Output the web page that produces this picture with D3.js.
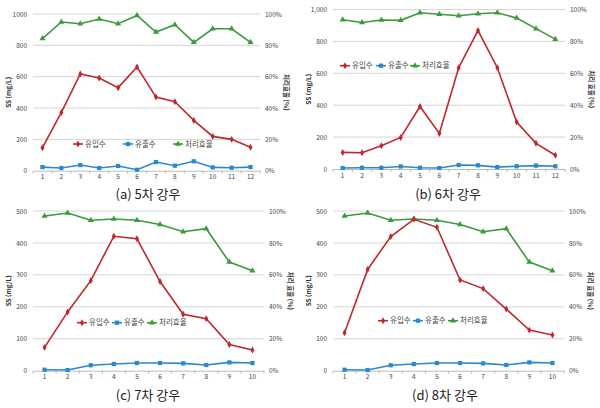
<!DOCTYPE html>
<html><head><meta charset="utf-8">
<script src="https://cdn.jsdelivr.net/npm/d3@7"></script>
<style>
html,body{margin:0;padding:0;background:#fff;}
svg{display:block;}
text{font-family:"Noto Sans CJK KR","Noto Sans",sans-serif;}
</style></head>
<body>
<svg id="c" width="600" height="408"></svg>
<script>
// ---- data ----
const categories12 = [1,2,3,4,5,6,7,8,9,10,11,12];
const categories10 = [1,2,3,4,5,6,7,8,9,10];
const seriesNames = ["유입수","유출수","처리효율"];

const rain5_inflow  = [147,372,617,591,530,662,470,440,321,219,200,149];
const rain5_outflow = [23,17,36,17,30,6,55,32,60,21,19,23];
const rain5_eff     = [84.3,94.9,93.8,96.8,93.8,99.1,88.5,93.2,81.9,90.6,90.6,81.9];

const rain6_inflow  = [104,102,146,198,392,223,635,868,635,294,161,86];
const rain6_outflow = [6,8,8,16,8,6,25,23,12,17,21,17];
const rain6_eff     = [93.6,91.9,93.4,93.2,98.0,97.0,96.1,97.3,98.0,94.6,88.0,81.4];

const rain7_inflow  = [73,184,282,421,413,279,177,163,82,65];
const rain7_outflow = [3,2,17,21,24,24,23,18,26,24];
const rain7_eff     = [96.9,98.7,94.2,95.0,94.2,91.6,87.0,88.9,68.0,62.6];

const rain8_inflow  = [119,317,420,474,449,284,257,193,127,112];
const rain8_outflow = [3,2,17,21,24,24,23,18,26,24];
const rain8_eff     = [96.9,98.7,94.2,95.0,94.2,91.6,87.0,88.9,68.0,62.6];

const leftTicks1000 = [0,200,400,600,800,1000];
const leftTicks500  = [0,100,200,300,400,500];
const rightTicks    = [0,20,40,60,80,100];
const captions = ["(a) 5차  강우","(b) 6차  강우","(c) 7차  강우","(d) 8차  강우"];

// ---- drawing ----
const svg = d3.select("#c");
const RED="#C0282D", BLUE="#2A88CF", GREEN="#3A9B3A";

const panels = [
  {cats:categories12, inflow:rain5_inflow, outflow:rain5_outflow, eff:rain5_eff, ticks:leftTicks1000, max:1000, fmt:d3.format("d"),
   x0:33, x1:260, yT:14, yB:170.7, rTitle:"처리효율 (%)", leg:{y:144, x:[73,123,173]}, cap:[148,199]},
  {cats:categories12, inflow:rain6_inflow, outflow:rain6_outflow, eff:rain6_eff, ticks:leftTicks1000, max:1000, fmt:d3.format(","),
   x0:333, x1:565, yT:9.5, yB:169, rTitle:"처리 효율 (%)", leg:{y:65.7, x:[340,376,410]}, cap:[448,199]},
  {cats:categories10, inflow:rain7_inflow, outflow:rain7_outflow, eff:rain7_eff, ticks:leftTicks500, max:500, fmt:d3.format("d"),
   x0:33, x1:264, yT:211, yB:370.7, rTitle:"처리 효율 (%)", leg:{y:322.7, x:[77,112,147]}, cap:[148,400]},
  {cats:categories10, inflow:rain8_inflow, outflow:rain8_outflow, eff:rain8_eff, ticks:leftTicks500, max:500, fmt:d3.format("d"),
   x0:333, x1:564, yT:211, yB:370.7, rTitle:"처리 효율 (%)", leg:{y:320.7, x:[378,413,448]}, cap:[445,400]}
];

function marker(g, type, color, x, y){
  const t = type==="diamond" ? d3.symbolDiamond : type==="square" ? d3.symbolSquare : d3.symbolTriangle;
  const s = type==="diamond" ? 14 : type==="square" ? 18 : 16;
  g.append("path").attr("d",d3.symbol(t, s)()).attr("transform",`translate(${x},${y})`).attr("fill",color);
}

panels.forEach((p,i)=>{
  const g = svg.append("g");
  const x = d3.scaleBand().domain(p.cats).range([p.x0,p.x1]);
  const y = d3.scaleLinear().domain([0,p.max]).range([p.yB,p.yT]);
  const yr = d3.scaleLinear().domain([0,100]).range([p.yB,p.yT]);
  const cx = d=>x(d)+x.bandwidth()/2;

  // gridlines
  g.append("g").selectAll("line").data(p.ticks.filter(t=>t>0)).join("line")
    .attr("x1",p.x0).attr("x2",p.x1).attr("y1",d=>y(d)).attr("y2",d=>y(d))
    .attr("stroke","#D6D6D6").attr("stroke-width",1);

  // left axis labels
  const la = d3.axisLeft(y).tickValues(p.ticks).tickFormat(p.fmt).tickSize(0).tickPadding(6);
  const lag = g.append("g").attr("transform",`translate(${p.x0},0)`).call(la);
  lag.select(".domain").remove();
  lag.selectAll("text").attr("font-size",6.5).attr("fill","#444");

  // right axis labels
  const ra = d3.axisRight(yr).tickValues(rightTicks).tickFormat(d=>d+"%").tickSize(0).tickPadding(5);
  const rag = g.append("g").attr("transform",`translate(${p.x1},0)`).call(ra);
  rag.select(".domain").remove();
  rag.selectAll("text").attr("font-size",6.5).attr("fill","#444");

  // bottom axis
  const ba = d3.axisBottom(x).tickSize(0).tickPadding(4);
  const bag = g.append("g").attr("transform",`translate(0,${p.yB})`).call(ba);
  bag.select(".domain").attr("stroke","#BBBBBB");
  bag.selectAll("text").attr("font-size",6.5).attr("fill","#444");
  const bounds = p.cats.map(d=>x(d)).concat([p.x1]);
  g.append("g").selectAll("line").data(bounds).join("line")
    .attr("x1",d=>d).attr("x2",d=>d).attr("y1",p.yB).attr("y2",p.yB+3)
    .attr("stroke","#BBBBBB");

  // axis titles
  g.append("text").attr("transform",`translate(${p.x0-22},${(p.yT+p.yB)/2}) rotate(-90)`)
    .attr("text-anchor","middle").attr("font-size",6.5).attr("font-weight","bold").attr("fill","#333").text("SS (mg/L)");
  g.append("text").attr("transform",`translate(${p.x1+24},${(p.yT+p.yB)/2}) rotate(90)`)
    .attr("text-anchor","middle").attr("font-size",6.5).attr("font-weight","bold").attr("fill","#333").text(p.rTitle);

  // lines
  const mk = (vals, sc)=>d3.line().x((d,k)=>cx(p.cats[k])).y(d=>sc(d))(vals);
  const specs = [
    {vals:p.eff, sc:yr, color:GREEN, m:"triangle"},
    {vals:p.inflow, sc:y, color:RED, m:"diamond"},
    {vals:p.outflow, sc:y, color:BLUE, m:"square"}
  ];
  specs.forEach(s=>{
    g.append("path").attr("d",mk(s.vals,s.sc)).attr("fill","none").attr("stroke",s.color).attr("stroke-width",1.6);
    s.vals.forEach((v,k)=>marker(g,s.m,s.color,cx(p.cats[k]),s.sc(v)));
  });

  // legend
  const legSpec = [{c:RED,m:"diamond"},{c:BLUE,m:"square"},{c:GREEN,m:"triangle"}];
  legSpec.forEach((l,k)=>{
    const lx = p.leg.x[k], ly = p.leg.y;
    g.append("line").attr("x1",lx).attr("x2",lx+10).attr("y1",ly).attr("y2",ly).attr("stroke",l.c).attr("stroke-width",1.6);
    marker(g,l.m,l.c,lx+5,ly);
    g.append("text").attr("x",lx+12).attr("y",ly+2.5).attr("font-size",7.5).attr("fill","#444").text(seriesNames[k]);
  });

  // caption
  svg.append("text").attr("x",p.cap[0]).attr("y",p.cap[1]).attr("text-anchor","middle")
    .attr("font-size",13).attr("fill","#222").text(captions[i]);
});
</script>
</body></html>
